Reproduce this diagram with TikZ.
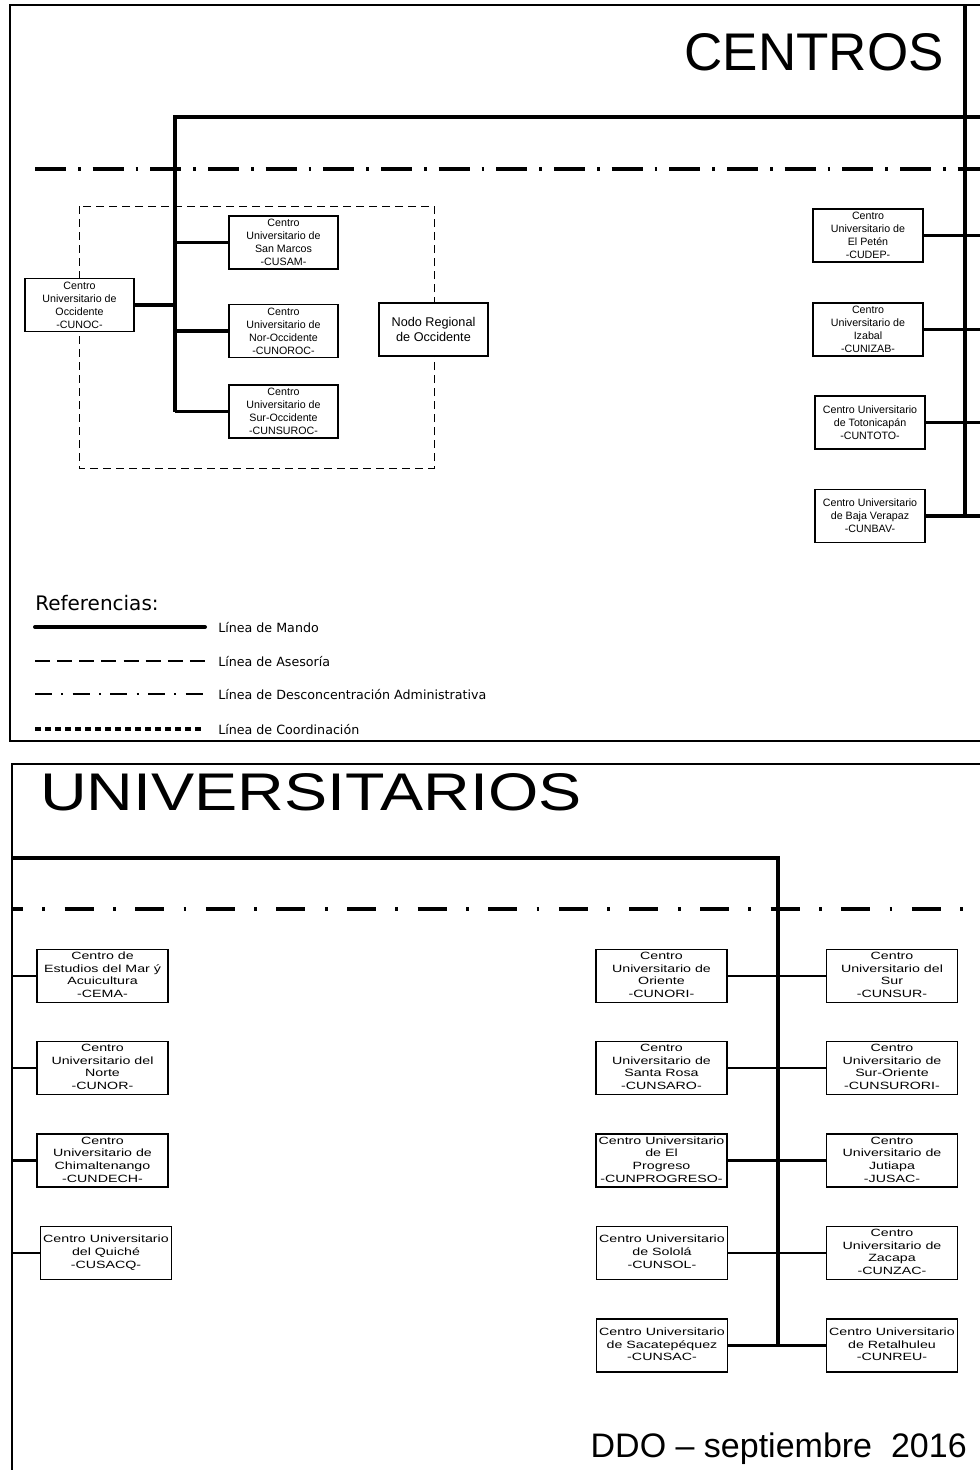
\documentclass[tikz,border=0pt]{standalone}
\usepackage{fontspec}
\setmainfont{Liberation Sans}
\newfontfamily\dejavu{DejaVu Sans}
\newcommand{\sbx}[1]{\scalebox{1.35}[1]{\begin{tabular}{@{}c@{}}#1\end{tabular}}}
\begin{document}
\begin{tikzpicture}[x=0.75pt,y=-0.75pt,
  box/.style={draw,line width=0.8pt,fill=white,inner sep=0pt,align=center,
    minimum width=109*0.75pt,minimum height=53*0.75pt,
    font=\fontsize{8}{9.75}\selectfont},
  bbox/.style={draw,line width=0.8pt,fill=white,inner sep=0pt,
    minimum width=131*0.75pt,minimum height=53*0.75pt,
    font=\fontsize{7.9}{9.5}\selectfont},
  frame/.style={line width=2.2pt},
  bus/.style={line width=3pt},
  conn/.style={line width=2.4pt},
  bconn/.style={line width=2pt},
  desctop/.style={line width=2.6pt,dash pattern=on 23.25pt off 9pt on 2pt off 9pt},
  descbot/.style={line width=2.6pt,dash pattern=on 21.75pt off 14.6pt on 2pt off 14.6pt,dash phase=13.5pt},
  asesor/.style={line width=0.75pt,dash pattern=on 6pt off 3.75pt},
  legmando/.style={line width=3pt,line cap=round},
  legases/.style={line width=1.1pt,dash pattern=on 11.25pt off 5.35pt},
  legdesc/.style={line width=1.1pt,dash pattern=on 12.75pt off 7pt on 1.5pt off 7pt},
  legcoord/.style={line width=2.6pt,dash pattern=on 4.5pt off 3pt},
  leglabel/.style={anchor=west,inner sep=0pt,font=\dejavu\fontsize{9.5}{11}\selectfont},
  title/.style={inner sep=0pt,font=\fontsize{39.75}{42}\selectfont}
]
\useasboundingbox (0,0) rectangle (980,1470);
\fill[white] (0,0) rectangle (980,1470);

% ---------- panel frames ----------
\draw[frame] (990,5) -- (10,5) -- (10,741) -- (990,741);
\draw[frame] (990,764) -- (12,764) -- (12,1480);

% ---------- top panel ----------
\coordinate (redge) at (980,0);
\coordinate (lb) at (175,117);
\coordinate (rbtop) at (965,5);

\node[title,anchor=base east] (tcentros) at (944,70) {CENTROS};

\draw[asesor] (79,206) rectangle (434,468);
\draw[desctop] (35,169) -- (980,169);

\node[box] (cunoc) at (79.5,305) {Centro\\Universitario de\\Occidente\\-CUNOC-};
\node[box] (cusam) at (283.5,242.5) {Centro\\Universitario de\\San Marcos\\-CUSAM-};
\node[box] (cunoroc) at (283.5,331) {Centro\\Universitario de\\Nor-Occidente\\-CUNOROC-};
\node[box] (cunsuroc) at (283.5,411.5) {Centro\\Universitario de\\Sur-Occidente\\-CUNSUROC-};
\node[box,font=\fontsize{9.5}{11}\selectfont] (nodo) at (433.5,329.5) {Nodo Regional\\de Occidente};

\node[box,minimum width=110*0.75pt] (cudep) at (868,235.5) {Centro\\Universitario de\\El Pet\'en\\-CUDEP-};
\node[box,minimum width=110*0.75pt] (cunizab) at (868,329.5) {Centro\\Universitario de\\Izabal\\-CUNIZAB-};
\node[box,minimum width=110*0.75pt] (cuntoto) at (870,422.5) {Centro Universitario\\de Totonicap\'an\\-CUNTOTO-};
\node[box,minimum width=110*0.75pt] (cunbav) at (870,516) {Centro Universitario\\de Baja Verapaz\\-CUNBAV-};

\draw[bus] (lb -| redge) -- (lb) -- (lb |- cunsuroc.west);
\draw[conn] (cunoc.east) -- (cunoc.east -| lb);
\draw[conn] (cusam.west -| lb) -- (cusam.west);
\draw[conn] (cunoroc.west -| lb) -- (cunoroc.west);
\draw[conn] (cunsuroc.west -| lb) -- (cunsuroc.west);

\draw[conn] (rbtop) -- (rbtop |- cunbav.east);
\draw[conn] (cudep.east) -- (cudep.east -| redge);
\draw[conn] (cunizab.east) -- (cunizab.east -| redge);
\draw[conn] (cuntoto.east) -- (cuntoto.east -| redge);
\draw[conn] (cunbav.east) -- (cunbav.east -| redge);

% legend
\node[anchor=base west,inner sep=0pt,font=\dejavu\fontsize{15}{18}\selectfont] (refs) at (35,610) {Referencias:};
\coordinate (lg1a) at (35,627);  \coordinate (lg1b) at (205,627);
\coordinate (lg2a) at (35,661);  \coordinate (lg2b) at (205,661);
\coordinate (lg3a) at (35,694);  \coordinate (lg3b) at (205,694);
\coordinate (lg4a) at (35,729);  \coordinate (lg4b) at (205,729);
\draw[legmando] (lg1a) -- (lg1b);
\draw[legases] (lg2a) -- (lg2b);
\draw[legdesc] (lg3a) -- (lg3b);
\draw[legcoord] (lg4a) -- (lg4b);
\node[leglabel] (lab1) at (218,628) {Línea de Mando};
\node[leglabel] (lab2) at (218,662) {Línea de Asesoría};
\node[leglabel] (lab3) at (218,695) {Línea de Desconcentración Administrativa};
\node[leglabel] (lab4) at (218,730) {Línea de Coordinación};

% ---------- bottom panel ----------
\coordinate (lpanel) at (12,858);
\coordinate (bb) at (778,858);

\node[title,anchor=base west] (tuniv) at (40,810) {\scalebox{1.22}[1]{UNIVERSITARIOS}};
\draw[descbot] (12,909) -- (980,909);

\node[bbox] (cema) at (102.5,976) {\sbx{Centro de\\Estudios del Mar ý\\Acuicultura\\-CEMA-}};
\node[bbox] (cunor) at (102.5,1068) {\sbx{Centro\\Universitario del\\Norte\\-CUNOR-}};
\node[bbox] (cundech) at (102.5,1160.5) {\sbx{Centro\\Universitario de\\Chimaltenango\\-CUNDECH-}};
\node[bbox] (cusacq) at (106,1253) {\sbx{Centro Universitario\\del Quiché\\-CUSACQ-}};

\node[bbox] (cunori) at (661.5,976) {\sbx{Centro\\Universitario de\\Oriente\\-CUNORI-}};
\node[bbox] (cunsaro) at (661.5,1068) {\sbx{Centro\\Universitario de\\Santa Rosa\\-CUNSARO-}};
\node[bbox] (cunprog) at (661.5,1160.5) {\sbx{Centro Universitario\\de El\\Progreso\\-CUNPROGRESO-}};
\node[bbox] (cunsol) at (662,1253) {\sbx{Centro Universitario\\de Sololá\\-CUNSOL-}};
\node[bbox] (cunsac) at (662,1345.5) {\sbx{Centro Universitario\\de Sacatepéquez\\-CUNSAC-}};

\node[bbox] (cunsur) at (892,976) {\sbx{Centro\\Universitario del\\Sur\\-CUNSUR-}};
\node[bbox] (cunsurori) at (892,1068) {\sbx{Centro\\Universitario de\\Sur-Oriente\\-CUNSURORI-}};
\node[bbox] (jusac) at (892,1160.5) {\sbx{Centro\\Universitario de\\Jutiapa\\-JUSAC-}};
\node[bbox] (cunzac) at (892,1253) {\sbx{Centro\\Universitario de\\Zacapa\\-CUNZAC-}};
\node[bbox] (cunreu) at (892,1345.5) {\sbx{Centro Universitario\\de Retalhuleu\\-CUNREU-}};

\draw[bus] (lpanel) -- (bb) -- (bb |- cunsac.east);
\draw[bconn] (cema.west -| lpanel) -- (cema.west);
\draw[bconn] (cunor.west -| lpanel) -- (cunor.west);
\draw[bconn] (cundech.west -| lpanel) -- (cundech.west);
\draw[bconn] (cusacq.west -| lpanel) -- (cusacq.west);
\draw[bconn] (cunori.east) -- (cunsur.west);
\draw[bconn] (cunsaro.east) -- (cunsurori.west);
\draw[bconn] (cunprog.east) -- (jusac.west);
\draw[bconn] (cunsol.east) -- (cunzac.west);
\draw[bconn] (cunsac.east) -- (cunreu.west);

\node[anchor=base east,inner sep=0pt,font=\fontsize{25.5}{28}\selectfont] (ddo) at (967,1457) {DDO – septiembre\ \ 2016};
\end{tikzpicture}
\end{document}
